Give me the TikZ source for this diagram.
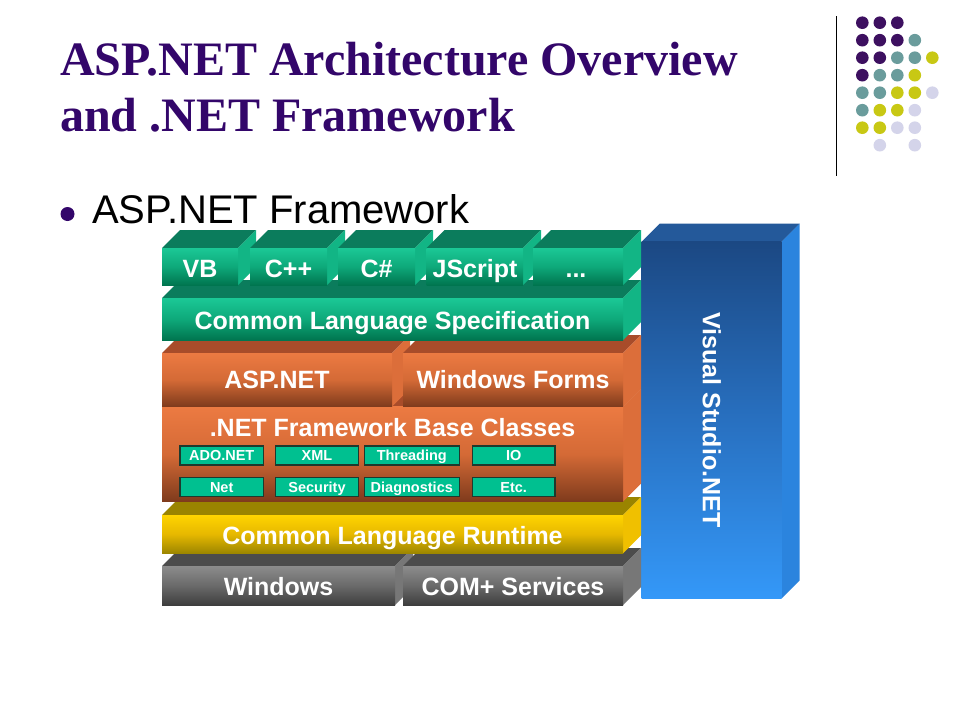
\documentclass[tikz,border=0pt]{standalone}
\usepackage{fontspec}
\setmainfont{Liberation Serif}
\newfontfamily\arialf{Liberation Sans}
\definecolor{titlepurple}{HTML}{33066A}
\definecolor{tealtop}{HTML}{0B7C5C}
\definecolor{tealside}{HTML}{12B585}
\definecolor{tealA}{HTML}{1BC896}
\definecolor{tealB}{HTML}{0EA97A}
\definecolor{tealC}{HTML}{00754F}
\definecolor{ortop}{HTML}{A84C2A}
\definecolor{orside}{HTML}{DC6E3A}
\definecolor{orA}{HTML}{EC7A42}
\definecolor{orB}{HTML}{D46A36}
\definecolor{orC}{HTML}{7E3A1C}
\definecolor{yetop}{HTML}{9A8400}
\definecolor{yeside}{HTML}{F0C000}
\definecolor{yeA}{HTML}{FFD400}
\definecolor{yeB}{HTML}{E6B800}
\definecolor{yeC}{HTML}{9C8600}
\definecolor{grtop}{HTML}{4C4C4C}
\definecolor{grside}{HTML}{777777}
\definecolor{grA}{HTML}{8C8C8C}
\definecolor{grB}{HTML}{6A6A6A}
\definecolor{grC}{HTML}{3E3E3E}
\definecolor{vstop}{HTML}{24599A}
\definecolor{vsside}{HTML}{2B84DE}
\definecolor{vsA}{HTML}{1B4883}
\definecolor{vsB}{HTML}{2870C0}
\definecolor{vsC}{HTML}{3498F8}
\definecolor{subfill}{HTML}{00C090}
\definecolor{subline}{HTML}{1E3A2E}
\definecolor{dp}{HTML}{3D1060}
\definecolor{dt}{HTML}{6A9C9C}
\definecolor{dy}{HTML}{C8C814}
\definecolor{dl}{HTML}{D4D4EA}
% x1 y1 x2 y2 topface sideface fronttop frontmid frontbottom
\newcommand\prism[9]{%
  \fill[#5] (#1,#2) -- ++(18,-18) -- ({#3+18},{#2-18}) -- (#3,#2) -- cycle;
  \fill[#6] (#3,#2) -- ++(18,-18) -- ({#3+18},{#4-18}) -- (#3,#4) -- cycle;
  \shade[top color=#7, bottom color=#9, middle color=#8] (#1,#2) rectangle (#3,#4);
}
\tikzset{
  lbl/.style={font=\arialf\bfseries\fontsize{25}{25}\selectfont, text=white, inner sep=0pt, anchor=base},
  subbox/.style={draw=subline, fill=subfill, line width=1.2pt, inner sep=0pt, minimum height=19pt,
    text height=10.5pt, text depth=0pt,
    font=\arialf\bfseries\fontsize{14.5}{14.5}\selectfont, text=white},
  dot/.style={circle, inner sep=0pt, minimum size=12.6pt}
}
\begin{document}
\begin{tikzpicture}[x=1pt,y=-1pt]
\useasboundingbox (0,0) rectangle (960,720);
\fill[white] (0,0) rectangle (960,720);

% title
\node[anchor=base west, inner sep=0pt, text=titlepurple, font=\bfseries\fontsize{48}{48}\selectfont] (t1) at (60,75) {ASP.NET Architecture Overview};
\node[anchor=base west, inner sep=0pt, text=titlepurple, font=\bfseries\fontsize{48}{48}\selectfont] (t2) at (60,131.7) {and .NET Framework};

% bullet
\fill[titlepurple] (67.5,214) circle (7);
\node[anchor=base west, inner sep=0pt, font=\arialf\fontsize{40}{40}\selectfont] (b1) at (92,223.3) {ASP.NET Framework};

% decoration
\draw[line width=1.3pt] (836.3,16) -- (836.3,176);
\foreach \r/\c/\k in {0/0/dp,0/1/dp,0/2/dp,
  1/0/dp,1/1/dp,1/2/dp,1/3/dt,
  2/0/dp,2/1/dp,2/2/dt,2/3/dt,2/4/dy,
  3/0/dp,3/1/dt,3/2/dt,3/3/dy,
  4/0/dt,4/1/dt,4/2/dy,4/3/dy,4/4/dl,
  5/0/dt,5/1/dy,5/2/dy,5/3/dl,
  6/0/dy,6/1/dy,6/2/dl,6/3/dl,
  7/1/dl,7/3/dl}
  \node[dot, fill=\k] (d\r\c) at ({862.3+17.5*\c},{22.7+17.5*\r}) {};

% Visual Studio.NET
\prism{641.7}{241.7}{781.7}{598.3}{vstop}{vsside}{vsA}{vsB}{vsC}
\node[lbl, anchor=center, rotate=-90] (vs) at (711.7,420) {Visual Studio.NET};

% bottom layer
\prism{162}{566}{395}{605}{grtop}{grside}{grA}{grB}{grC}
\prism{403}{566}{623}{605}{grtop}{grside}{grA}{grB}{grC}
\node[lbl] (win) at (278.5,595) {Windows};
\node[lbl] (com) at (513,595) {COM+ Services};

% CLR
\prism{162}{515}{623}{553.3}{yetop}{yeside}{yeA}{yeB}{yeC}
\node[lbl] (clr) at (392.5,544.3) {Common Language Runtime};

% base classes
\prism{162}{406.7}{623}{501.7}{ortop}{orside}{orA}{orB}{orC}
\node[lbl] (fbc) at (392.5,436.7) {.NET Framework Base Classes};
\node[subbox, minimum width=83.3pt] (ado) at (221.7,455.5) {ADO.NET};
\node[subbox, minimum width=82.6pt] (xml) at (317,455.5) {XML};
\node[subbox, minimum width=95pt] (thr) at (411.8,455.5) {Threading};
\node[subbox, minimum width=82.7pt] (io) at (513.7,455.5) {IO};
\node[subbox, minimum width=83.3pt] (net) at (221.7,487) {Net};
\node[subbox, minimum width=82.6pt] (sec) at (317,487) {Security};
\node[subbox, minimum width=95pt] (dia) at (411.8,487) {Diagnostics};
\node[subbox, minimum width=82.7pt] (etc) at (513.7,487) {Etc.};

% ASP.NET / Windows Forms
\prism{162}{353}{392}{406.7}{ortop}{orside}{orA}{orB}{orC}
\prism{403}{353}{623}{406.7}{ortop}{orside}{orA}{orB}{orC}
\node[lbl] (asp) at (277,388.3) {ASP.NET};
\node[lbl] (wf) at (513,388.3) {Windows Forms};

% CLS
\prism{162}{298}{623}{340}{tealtop}{tealside}{tealA}{tealB}{tealC}
\node[lbl] (cls) at (392.5,329.3) {Common Language Specification};

% languages
\prism{162}{248}{238}{285}{tealtop}{tealside}{tealA}{tealB}{tealC}
\prism{250}{248}{327}{285}{tealtop}{tealside}{tealA}{tealB}{tealC}
\prism{338}{248}{415}{285}{tealtop}{tealside}{tealA}{tealB}{tealC}
\prism{426.7}{248}{523}{285}{tealtop}{tealside}{tealA}{tealB}{tealC}
\prism{533}{248}{623}{285}{tealtop}{tealside}{tealA}{tealB}{tealC}
\node[lbl] (vb) at (200,277) {VB};
\node[lbl] (cpp) at (288.5,277) {C++};
\node[lbl] (cs) at (376.5,277) {C\#};
\node[lbl] (js) at (475,277) {JScript};
\node[lbl] (more) at (576,277) {...};
\end{tikzpicture}
\end{document}
